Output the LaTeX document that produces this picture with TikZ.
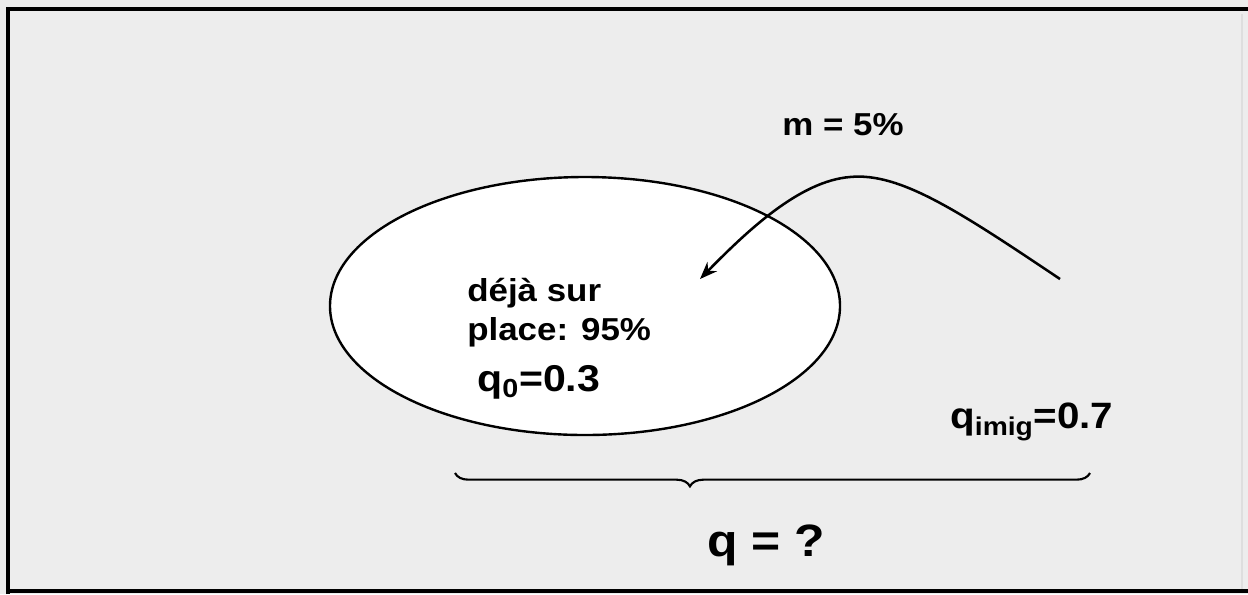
\documentclass[tikz,border=0pt]{standalone}
\usepackage{fontspec}
\setmainfont{Liberation Sans}
\usetikzlibrary{shapes.geometric,arrows.meta,decorations.pathreplacing}
\definecolor{bggray}{HTML}{EDEDED}
\definecolor{edgegray}{HTML}{DEDEDE}
\tikzset{
  txt/.style={inner sep=0pt, anchor=base west, xscale=1.1, transform shape},
  fs/.style={font=\fontsize{#1}{#1}\selectfont\bfseries},
  curve/.style={line width=1.9pt},
}
\begin{document}
\begin{tikzpicture}[x=0.75pt,y=-0.75pt]
\useasboundingbox (0,0) rectangle (1248,594);
\fill[bggray] (0,0) rectangle (1248,594);
% frame
\draw[line width=3.6pt] (8,594) -- (8,9) -- (1248,9);
\draw[line width=3.6pt] (8,591) -- (1248,591);
\draw[edgegray, line width=1pt] (1242,14) -- (1242,589);
% ellipse
\node[ellipse, draw, fill=white, line width=1.8pt, inner sep=0pt,
      minimum width=382.5pt, minimum height=193.5pt] (pop) at (585,306) {};
% texts
\node[txt, fs=23.8pt] (deja) at (467,301) {déjà sur};
\node[txt, fs=23.8pt] (place) at (467,340) {place: 95\%};
\node[txt, fs=28pt] (q0) at (477,391) {q\textsubscript{0}=0.3};
\node[txt, fs=23.8pt] (m) at (782,135) {m = 5\%};
\node[txt, fs=27.5pt] (qimig) at (950,428) {q\textsubscript{imig}=0.7};
\node[txt, fs=34pt] (q) at (707,556) {q = ?};
% migration arrow
\coordinate (src) at (1060,279);
\coordinate (dst) at (700,279);
\draw[curve, -{Stealth[length=13pt, width=10pt]}]
  (src) .. controls (960,212) and (900,172) .. (850,177)
        .. controls (800,181) and (748,230) .. (dst);
% brace
\coordinate (b1) at (455,473);
\coordinate (b2) at (1090,473);
\draw[line width=1.6pt, decorate,
      decoration={brace, mirror, amplitude=10pt, aspect=0.37}] (b1) -- (b2);
\end{tikzpicture}
\end{document}
